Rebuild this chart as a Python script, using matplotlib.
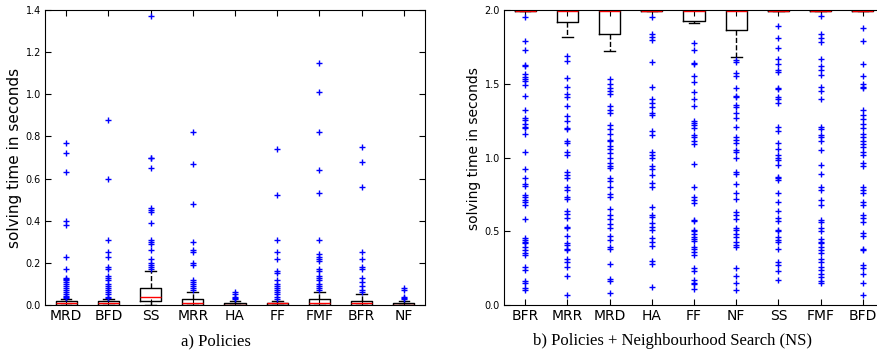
import matplotlib
matplotlib.use("Agg")
import matplotlib.pyplot as plt

# a) Policies
labels_a = ["MRD", "BFD", "SS", "MRR", "HA", "FF", "FMF", "BFR", "NF"]
q1_a = [0.0, 0.0, 0.02, 0.0, 0.0, 0.0, 0.0, 0.0, 0.0]
med_a = [0.01, 0.01, 0.04, 0.01, 0.0, 0.01, 0.01, 0.01, 0.0]
q3_a = [0.02, 0.02, 0.08, 0.03, 0.01, 0.01, 0.03, 0.02, 0.01]
lo_a = [0.0, 0.0, 0.0, 0.0, 0.0, 0.0, 0.0, 0.0, 0.0]
hi_a = [0.03, 0.03, 0.16, 0.06, 0.02, 0.02, 0.06, 0.05, 0.02]
fliers_a = [
    [0.77, 0.72, 0.63, 0.40, 0.38, 0.23, 0.17, 0.13, 0.125, 0.12, 0.11, 0.10,
     0.09, 0.08, 0.07, 0.06, 0.05, 0.045, 0.04, 0.035],
    [0.88, 0.60, 0.31, 0.25, 0.23, 0.18, 0.17, 0.14, 0.13, 0.12, 0.10, 0.09,
     0.08, 0.07, 0.06, 0.05, 0.04, 0.035],
    [1.37, 0.70, 0.70, 0.65, 0.46, 0.45, 0.44, 0.39, 0.31, 0.30, 0.29, 0.26,
     0.22, 0.20, 0.19, 0.18, 0.17],
    [0.82, 0.67, 0.48, 0.30, 0.26, 0.25, 0.20, 0.19, 0.12, 0.11, 0.10, 0.09,
     0.08, 0.07],
    [0.06, 0.05, 0.04, 0.035, 0.03],
    [0.74, 0.52, 0.31, 0.25, 0.22, 0.16, 0.15, 0.12, 0.10, 0.09, 0.08, 0.07,
     0.06, 0.05, 0.04, 0.03],
    [1.15, 1.01, 0.82, 0.64, 0.53, 0.31, 0.24, 0.23, 0.22, 0.21, 0.17, 0.16,
     0.14, 0.13, 0.12, 0.10, 0.09, 0.08, 0.07],
    [0.75, 0.68, 0.56, 0.25, 0.22, 0.18, 0.17, 0.13, 0.11, 0.09, 0.07, 0.06],
    [0.08, 0.07, 0.04, 0.035, 0.03],
]

# b) Policies + Neighbourhood Search (NS)
labels_b = ["BFR", "MRR", "MRD", "HA", "FF", "NF", "SS", "FMF", "BFD"]
q1_b = [1.99, 1.92, 1.835, 1.99, 1.923, 1.864, 1.99, 1.99, 1.99]
med_b = [1.99, 1.99, 1.99, 1.99, 1.99, 1.99, 1.99, 1.99, 1.99]
q3_b = [2.0, 2.0, 2.0, 2.0, 2.0, 2.0, 2.0, 2.0, 2.0]
lo_b = [1.99, 1.82, 1.72, 1.99, 1.91, 1.683, 1.99, 1.99, 1.99]
hi_b = [2.0, 2.0, 2.0, 2.0, 2.0, 2.0, 2.0, 2.0, 2.0]
fliers_b = [
    [1.955, 1.79, 1.73, 1.63, 1.62, 1.566, 1.548, 1.53, 1.52, 1.49, 1.42, 1.32,
     1.265, 1.255, 1.23, 1.21, 1.20, 1.16, 1.04, 0.92, 0.86, 0.82, 0.81, 0.744,
     0.73, 0.71, 0.70, 0.68, 0.58, 0.456, 0.44, 0.43, 0.42, 0.395, 0.37, 0.35,
     0.34, 0.255, 0.235, 0.163, 0.15, 0.113, 0.10],
    [1.69, 1.654, 1.54, 1.48, 1.43, 1.41, 1.35, 1.28, 1.25, 1.20, 1.19, 1.11,
     1.10, 1.04, 1.02, 0.90, 0.88, 0.86, 0.80, 0.78, 0.734, 0.72, 0.64, 0.62,
     0.588, 0.53, 0.52, 0.468, 0.42, 0.41, 0.38, 0.37, 0.312, 0.29, 0.26,
     0.197, 0.066],
    [1.53, 1.50, 1.47, 1.45, 1.43, 1.35, 1.32, 1.30, 1.22, 1.19, 1.16, 1.12,
     1.11, 1.08, 1.06, 1.03, 1.00, 0.96, 0.94, 0.93, 0.86, 0.84, 0.80, 0.75,
     0.73, 0.648, 0.61, 0.58, 0.55, 0.52, 0.47, 0.44, 0.395, 0.38, 0.278,
     0.174, 0.16, 0.079],
    [1.955, 1.837, 1.82, 1.80, 1.65, 1.48, 1.40, 1.37, 1.34, 1.30, 1.29, 1.18,
     1.15, 1.035, 1.02, 1.00, 0.94, 0.92, 0.88, 0.825, 0.80, 0.667, 0.61, 0.60,
     0.554, 0.53, 0.51, 0.455, 0.43, 0.40, 0.30, 0.28, 0.12],
    [1.774, 1.73, 1.643, 1.635, 1.555, 1.51, 1.446, 1.395, 1.35, 1.25, 1.235,
     1.22, 1.20, 1.153, 1.14, 1.11, 1.09, 0.954, 0.80, 0.73, 0.71, 0.69, 0.576,
     0.57, 0.51, 0.50, 0.48, 0.46, 0.45, 0.435, 0.39, 0.38, 0.36, 0.34, 0.25,
     0.23, 0.17, 0.15, 0.14, 0.11],
    [1.661, 1.65, 1.575, 1.55, 1.47, 1.42, 1.41, 1.356, 1.34, 1.30, 1.27,
     1.205, 1.14, 1.12, 1.10, 1.05, 1.035, 1.00, 0.904, 0.89, 0.82, 0.76, 0.72,
     0.63, 0.61, 0.58, 0.52, 0.51, 0.48, 0.46, 0.43, 0.41, 0.39, 0.25, 0.20,
     0.15, 0.10],
    [1.89, 1.81, 1.74, 1.67, 1.635, 1.593, 1.58, 1.47, 1.465, 1.41, 1.40, 1.37,
     1.21, 1.18, 1.096, 1.06, 1.02, 1.00, 0.98, 0.95, 0.87, 0.86, 0.85, 0.76,
     0.70, 0.64, 0.59, 0.57, 0.51, 0.50, 0.46, 0.44, 0.43, 0.38, 0.29, 0.27,
     0.23, 0.17],
    [1.96, 1.84, 1.81, 1.78, 1.67, 1.62, 1.59, 1.56, 1.48, 1.45, 1.395, 1.21,
     1.19, 1.155, 1.14, 1.11, 1.05, 0.95, 0.89, 0.80, 0.78, 0.71, 0.68, 0.576,
     0.56, 0.52, 0.50, 0.45, 0.43, 0.42, 0.395, 0.37, 0.35, 0.31, 0.29, 0.26,
     0.24, 0.21, 0.19, 0.16, 0.15],
    [1.876, 1.79, 1.632, 1.55, 1.50, 1.48, 1.47, 1.32, 1.29, 1.26, 1.23, 1.20,
     1.16, 1.14, 1.11, 1.09, 1.07, 1.04, 1.02, 0.96, 0.94, 0.80, 0.78, 0.76,
     0.70, 0.68, 0.61, 0.59, 0.56, 0.49, 0.47, 0.38, 0.37, 0.27, 0.25, 0.21,
     0.15, 0.07],
]


def make_stats(labels, q1, med, q3, lo, hi, fliers):
    stats = []
    for i in range(len(labels)):
        stats.append({"label": labels[i], "q1": q1[i], "med": med[i],
                      "q3": q3[i], "whislo": lo[i], "whishi": hi[i],
                      "fliers": fliers[i]})
    return stats


def draw(ax, stats, yticks, ymax, label_size, label_y):
    ax.bxp(stats, widths=0.5,
           boxprops=dict(color="black", lw=1),
           medianprops=dict(color="red", lw=1),
           whiskerprops=dict(color="black", lw=1, linestyle="--"),
           capprops=dict(color="black", lw=1),
           flierprops=dict(marker="+", markeredgecolor="b", markersize=5,
                           markeredgewidth=1, linestyle="none"))
    ax.set_xlim(0.5, 9.5)
    ax.set_ylim(0, ymax)
    ax.set_yticks(yticks)
    ax.set_yticklabels(["%.1f" % t for t in yticks], fontsize=7)
    ax.tick_params(axis="x", labelsize=10, direction="in", top=True,
                   length=4, pad=3)
    ax.tick_params(axis="y", direction="in", right=True, length=4, pad=3)
    ax.set_ylabel("solving time in seconds", fontsize=label_size)
    ax.yaxis.set_label_coords(-0.06, label_y)


fig = plt.figure(figsize=(8.78, 3.56), dpi=100)
ax1 = fig.add_axes([45 / 878, 51 / 356, 380 / 878, 295 / 356])
ax2 = fig.add_axes([504 / 878, 51 / 356, 380 / 878, 295 / 356])

draw(ax1, make_stats(labels_a, q1_a, med_a, q3_a, lo_a, hi_a, fliers_a),
     [0.0, 0.2, 0.4, 0.6, 0.8, 1.0, 1.2, 1.4], 1.4, 11, 0.5)
draw(ax2, make_stats(labels_b, q1_b, med_b, q3_b, lo_b, hi_b, fliers_b),
     [0.0, 0.5, 1.0, 1.5, 2.0], 2.0, 10, 0.53)

fig.text(216 / 878, 0.042, "a) Policies", family="Liberation Serif",
         fontsize=12, ha="center", va="center")
fig.text(673 / 878, 0.042, "b) Policies + Neighbourhood Search (NS)",
         family="Liberation Serif", fontsize=12, ha="center", va="center")

fig.savefig("out.png", dpi=100)
